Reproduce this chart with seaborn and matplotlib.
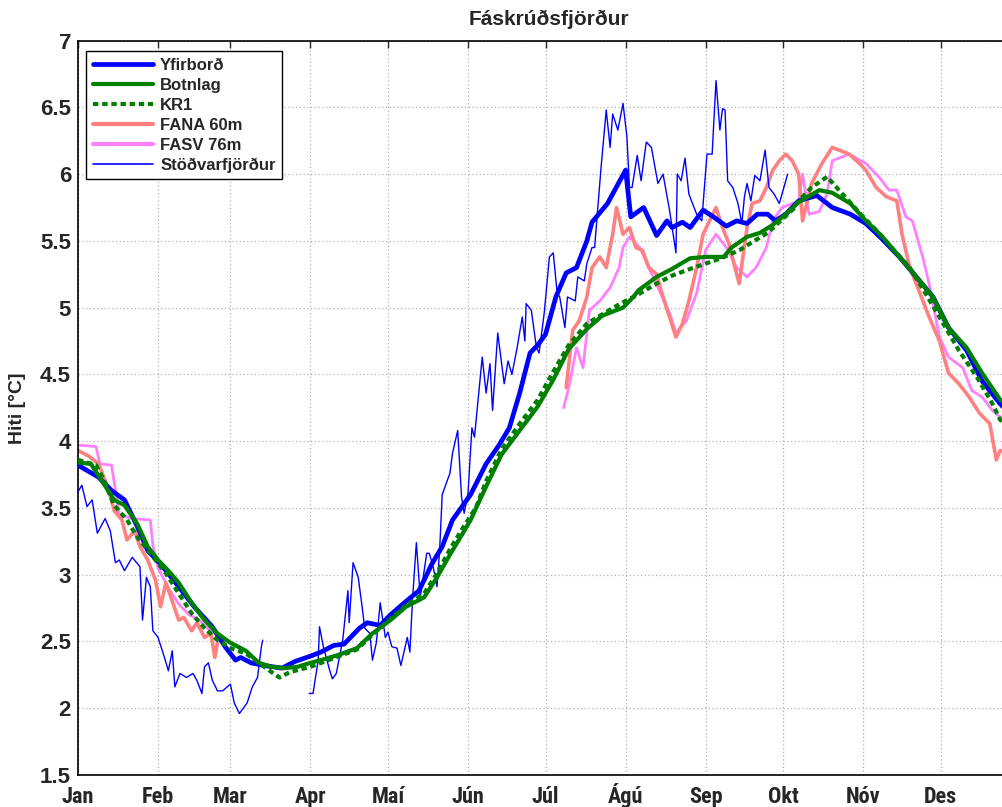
import pandas as pd
import matplotlib
matplotlib.use('Agg')
import matplotlib.pyplot as plt
from matplotlib import font_manager
from matplotlib.lines import Line2D
import seaborn as sns

# (dagur ársins, hiti) lesið af myndinni
yfirbord = [(0, 3.82), (8, 3.73), (13, 3.63), (18, 3.56), (23, 3.36), (27, 3.18), (32, 3.08),
            (39, 2.91), (45, 2.76), (52, 2.61), (57, 2.46), (61, 2.36), (63, 2.38), (67, 2.34),
            (72, 2.32), (79, 2.30), (84, 2.35), (90, 2.39), (94, 2.42), (99, 2.47), (103, 2.48),
            (109, 2.60), (112, 2.64), (117, 2.62), (121, 2.70), (127, 2.80), (132, 2.88),
            (137, 3.08), (141, 3.21), (145, 3.41), (152, 3.60), (158, 3.83), (163, 3.97),
            (167, 4.10), (171, 4.36), (175, 4.66), (178, 4.72), (181, 4.80), (185, 5.08),
            (189, 5.26), (193, 5.30), (197, 5.50), (199, 5.64), (205, 5.78), (212, 6.03),
            (214, 5.68), (219, 5.75), (224, 5.54), (228, 5.65), (230, 5.60), (234, 5.64),
            (237, 5.60), (242, 5.73), (246, 5.68), (251, 5.61), (255, 5.65), (259, 5.63),
            (263, 5.70), (267, 5.70), (270, 5.65), (274, 5.70), (279, 5.80), (286, 5.84),
            (292, 5.75), (299, 5.70), (305, 5.63), (311, 5.52), (318, 5.38), (325, 5.22),
            (331, 5.08), (337, 4.85), (344, 4.68), (350, 4.45), (357, 4.28), (365, 4.12)]

botnlag = [(0, 3.84), (5, 3.83), (10, 3.68), (14, 3.56), (18, 3.52), (23, 3.38), (27, 3.21),
           (31, 3.11), (35, 3.03), (39, 2.94), (44, 2.79), (49, 2.66), (54, 2.56), (59, 2.49),
           (65, 2.43), (70, 2.34), (75, 2.31), (80, 2.30), (85, 2.31), (90, 2.34), (94, 2.36),
           (101, 2.40), (108, 2.45), (114, 2.56), (121, 2.66), (127, 2.76), (134, 2.83),
           (139, 2.98), (144, 3.15), (149, 3.31), (152, 3.41), (158, 3.66), (164, 3.90),
           (171, 4.08), (178, 4.26), (184, 4.46), (190, 4.69), (197, 4.84), (203, 4.94),
           (211, 5.00), (215, 5.08), (217, 5.13), (224, 5.23), (230, 5.29), (237, 5.37),
           (243, 5.38), (250, 5.38), (253, 5.45), (259, 5.53), (264, 5.56), (269, 5.62),
           (274, 5.70), (279, 5.79), (287, 5.88), (292, 5.86), (299, 5.78), (305, 5.65),
           (311, 5.54), (318, 5.38), (325, 5.22), (331, 5.08), (337, 4.85), (344, 4.70),
           (350, 4.51), (357, 4.31), (365, 4.20)]

kr1 = [(0, 3.86), (7, 3.82), (10, 3.71), (14, 3.52), (19, 3.41), (23, 3.28), (28, 3.16),
       (34, 3.01), (39, 2.86), (44, 2.71), (49, 2.60), (54, 2.51), (59, 2.45), (65, 2.41),
       (70, 2.34), (75, 2.27), (78, 2.23), (82, 2.27), (90, 2.31), (97, 2.36), (108, 2.44),
       (114, 2.55), (121, 2.67), (127, 2.77), (134, 2.86), (139, 3.01), (144, 3.19),
       (149, 3.35), (154, 3.50), (158, 3.70), (164, 3.94), (171, 4.13), (178, 4.31),
       (184, 4.52), (190, 4.72), (197, 4.88), (203, 4.95), (210, 5.03), (217, 5.10),
       (224, 5.18), (230, 5.24), (237, 5.29), (243, 5.33), (249, 5.37), (256, 5.43),
       (261, 5.49), (267, 5.56), (272, 5.65), (277, 5.74), (279, 5.80), (284, 5.90),
       (290, 5.98), (296, 5.85), (303, 5.70), (309, 5.58), (315, 5.45), (322, 5.30),
       (328, 5.11), (335, 4.88), (341, 4.68), (348, 4.48), (354, 4.28), (357, 4.16),
       (365, 4.05)]

fana_vetur = [(0, 3.93), (4, 3.89), (8, 3.83), (12, 3.63), (14, 3.48), (17, 3.41), (19, 3.26),
              (22, 3.33), (24, 3.21), (27, 3.11), (30, 2.96), (32, 2.76), (34, 2.94), (36, 2.83),
              (39, 2.66), (41, 2.68), (44, 2.58), (46, 2.64), (49, 2.53), (51.5, 2.56),
              (53, 2.38), (54, 2.49)]
fana_sumar = [(189, 4.40), (191.5, 4.83), (194, 4.90), (197, 5.08), (199, 5.30), (202, 5.38),
              (204.5, 5.30), (207, 5.55), (208.5, 5.75), (211, 5.55), (213.5, 5.60),
              (216, 5.45), (218.5, 5.43), (221, 5.30), (224, 5.25), (226, 5.11), (229, 4.93),
              (231.5, 4.78), (234, 4.88), (236.5, 5.05), (239.5, 5.30), (242, 5.55),
              (244.5, 5.65), (247, 5.75), (249.5, 5.60), (252, 5.48), (255, 5.25), (256, 5.18),
              (259, 5.60), (261, 5.78), (264, 5.80), (266.5, 5.90), (269, 6.03), (271.5, 6.10),
              (274, 6.15), (276.5, 6.10), (279, 6.00), (280.5, 5.65), (284, 5.93), (288, 6.08),
              (292, 6.20), (298.5, 6.15), (302.5, 6.08), (305, 6.03), (309, 5.90), (313, 5.83),
              (317, 5.80), (319, 5.55), (322, 5.30), (325.5, 5.13), (329.5, 4.93),
              (333.5, 4.75), (337, 4.51), (341, 4.43), (345, 4.33), (349, 4.21), (353, 4.13),
              (355.5, 3.86), (357, 3.93), (365, 3.90)]

fasv_vetur = [(0, 3.97), (7, 3.96), (8.5, 3.83), (13, 3.82), (16, 3.45), (21, 3.42),
              (28, 3.41), (29, 3.22), (31, 3.05), (35, 2.90), (39, 2.78), (43, 2.70),
              (47, 2.66), (50, 2.60), (54, 2.55)]
fasv_sumar = [(188, 4.25), (190, 4.40), (193, 4.70), (195.5, 4.55), (198, 4.98), (202, 5.05),
              (206, 5.15), (209.5, 5.30), (211, 5.45), (213.5, 5.53), (217.5, 5.45),
              (221, 5.30), (225, 5.13), (229, 4.96), (231.5, 4.81), (235.5, 4.90),
              (239.5, 5.11), (243, 5.43), (247, 5.55), (251, 5.45), (255, 5.30), (259, 5.23),
              (262.5, 5.30), (266.5, 5.45), (269, 5.65), (272.5, 5.75), (276.5, 5.78),
              (279, 5.80), (280.5, 6.00), (283, 5.70), (287, 5.72), (290, 5.85), (292, 6.10),
              (298.5, 6.15), (305, 6.08), (310, 5.98), (314, 5.88), (317, 5.88), (320.5, 5.68),
              (323, 5.65), (327, 5.38), (329.5, 5.18), (333.5, 4.78), (337, 4.63),
              (342.5, 4.55), (346, 4.38), (350, 4.33), (354, 4.23), (357, 4.18), (365, 4.10)]

stodv_vetur = [(0, 3.62), (1.5, 3.67), (3.5, 3.51), (5.5, 3.56), (7.5, 3.31), (10.5, 3.42),
               (12.5, 3.33), (14.5, 3.09), (16, 3.11), (18, 3.03), (21, 3.13), (24, 3.06),
               (25, 2.66), (26.5, 2.98), (28, 2.91), (29, 2.58), (31, 2.53), (33, 2.41),
               (35, 2.28), (36.5, 2.43), (37.5, 2.16), (39.5, 2.26), (42, 2.23), (44.5, 2.26),
               (46, 2.21), (48, 2.11), (49, 2.31), (50.5, 2.34), (52, 2.21), (54, 2.13),
               (56, 2.13), (59, 2.18), (60.5, 2.04), (62.5, 1.96), (65.5, 2.04), (67.5, 2.16),
               (69.5, 2.23), (71, 2.46), (71.5, 2.51)]
stodv_sumar = [(89.5, 2.11), (91, 2.11), (93, 2.36), (93.5, 2.61), (95, 2.46), (97.5, 2.28),
               (98.5, 2.22), (100, 2.26), (102.5, 2.51), (104.5, 2.88), (105, 2.64),
               (106.5, 3.09), (108.5, 2.98), (110, 2.76), (111, 2.60), (113, 2.56),
               (114, 2.36), (115.5, 2.49), (117, 2.79), (119, 2.53), (120, 2.57), (121.5, 2.46),
               (123.5, 2.45), (125, 2.32), (127.5, 2.53), (128.5, 2.42), (129.5, 2.81),
               (131, 3.24), (132.5, 2.83), (135, 3.16), (136, 3.16), (137.5, 3.06),
               (139, 2.91), (140, 3.18), (141, 3.60), (144, 3.76), (145, 3.91), (147, 4.08),
               (148.5, 3.58), (149.5, 3.46), (151, 3.61), (152.5, 4.10), (153.5, 4.03),
               (156.5, 4.63), (158, 4.36), (159.5, 4.58), (160.5, 4.23), (162.5, 4.81),
               (165, 4.43), (166.5, 4.60), (168, 4.50), (170, 4.70), (172, 4.93), (173, 4.75),
               (173.5, 5.03), (175.5, 4.98), (177.5, 4.70), (178.5, 4.66), (180.5, 4.96),
               (182.5, 5.38), (184, 5.41), (185.5, 5.11), (186.5, 5.08), (188.5, 4.85),
               (189.5, 5.08), (192.5, 5.05), (193.5, 5.23), (196, 5.20), (197, 5.33),
               (199, 5.45), (200, 5.45), (202.5, 6.05), (204.5, 6.48), (206, 6.20), (207, 6.45),
               (209, 6.33), (211, 6.53), (212.5, 6.28), (213.5, 5.90), (214.5, 5.90),
               (216.5, 6.14), (218, 5.95), (220, 6.24), (222, 6.20), (224.5, 5.93), (226.5, 6.00),
               (229, 5.73), (231.5, 5.41), (232, 6.00), (233.5, 5.95), (235, 6.12), (236.5, 5.85),
               (239.5, 5.70), (241.5, 5.65), (242.5, 5.90), (243.5, 6.15), (245.5, 6.15),
               (247, 6.70), (248.5, 6.33), (249.5, 6.49), (250.5, 6.48), (251.5, 5.95),
               (253.5, 5.90), (255.5, 5.78), (257, 5.63), (258, 5.83), (259, 5.93), (260.5, 5.80),
               (262, 5.99), (264, 5.95), (266, 6.18), (267.5, 5.90), (269.5, 5.85), (271.5, 5.78),
               (274, 5.95), (274.7, 6.00)]

manudir = ['Jan', 'Feb', 'Mar', 'Apr', 'Maí', 'Jún', 'Júl', 'Ágú', 'Sep', 'Okt', 'Nóv', 'Des']
manud_dagur = [0, 31, 59, 90, 120, 151, 181, 212, 243, 273, 304, 334]
y_ticks = [1.5, 2, 2.5, 3, 3.5, 4, 4.5, 5, 5.5, 6, 6.5, 7]


def rod(*hlutar):
    # gera DataFrame, hver hluti fær sitt númer svo bil verði á milli
    frames = []
    for i, h in enumerate(hlutar):
        d = pd.DataFrame(h, columns=['dagur', 'hiti'])
        d['hluti'] = i
        frames.append(d)
    return pd.concat(frames, ignore_index=True)


sns.set_style('white')
plt.rcParams['font.family'] = ['Liberation Sans', 'DejaVu Sans']
plt.rcParams['font.weight'] = 'bold'

# mjótt letur fyrir mánuði ef það er til
til = {f.name for f in font_manager.fontManager.ttflist}
mjott = [n for n in ['Liberation Sans Narrow', 'DejaVu Sans Condensed', 'Roboto Condensed']
         if n in til]
man_font = mjott + ['Liberation Sans', 'DejaVu Sans']
man_size = 16 if mjott else 14.5

fig = plt.figure(figsize=(10.02, 8.07), dpi=100)
ax = fig.add_axes([0.0778, 0.0397, 0.941, 0.910])

lina = [
    ('FASV 76m', rod(fasv_vetur, fasv_sumar), '#ff80ff', 2.0, '-', 1),
    ('FANA 60m', rod(fana_vetur, fana_sumar), '#ff8080', 2.6, '-', 2),
    ('Stöðvarfjörður', rod(stodv_vetur, stodv_sumar), '#0000ff', 1.0, '-', 3),
    ('Yfirborð', rod(yfirbord), '#0000ff', 3.4, '-', 4),
    ('Botnlag', rod(botnlag), '#008000', 3.0, '-', 5),
    ('KR1', rod(kr1), '#008000', 3.0, (0, (1.3, 0.9)), 6),
]
for nafn, df, lit, lw, ls, z in lina:
    sns.lineplot(data=df, x='dagur', y='hiti', units='hluti', estimator=None, sort=False,
                 color=lit, linewidth=lw, linestyle=ls, zorder=z, ax=ax)

ax.set_xlim(0, 365)
ax.set_ylim(1.5, 7)
ax.set_xticks(manud_dagur)
ax.set_xticklabels(manudir, fontsize=man_size, fontweight='bold', family=man_font)
ax.set_yticks(y_ticks)
ax.set_yticklabels(['%g' % v for v in y_ticks], fontsize=16, fontweight='bold')
ax.tick_params(direction='in', length=5, width=1, top=True, right=True)
ax.tick_params(axis='x', pad=20)
ax.tick_params(axis='y', pad=5)
for t in ax.get_xticklabels():
    t.set_verticalalignment('baseline')
ax.grid(True, linestyle=(0, (1, 2)), color='#b0b0b0', linewidth=0.9)
for s in ax.spines.values():
    s.set_color('black')
    s.set_linewidth(1.2)

ax.set_xlabel('')
ax.set_ylabel('Hiti [°C]', fontsize=14, fontweight='bold', labelpad=10)
ax.set_title('Fáskrúðsfjörður', fontsize=15, fontweight='bold', pad=11)

handles = [
    Line2D([], [], color='#0000ff', lw=3.4),
    Line2D([], [], color='#008000', lw=3.0),
    Line2D([], [], color='#008000', lw=3.0, ls=(0, (1.3, 0.9))),
    Line2D([], [], color='#ff8080', lw=3.0),
    Line2D([], [], color='#ff80ff', lw=3.0),
    Line2D([], [], color='#0000ff', lw=1.2),
]
names = ['Yfirborð', 'Botnlag', 'KR1', 'FANA 60m', 'FASV 76m', 'Stöðvarfjörður']
leg = ax.legend(handles, names, loc='upper left', bbox_to_anchor=(0.0085, 0.986),
                borderaxespad=0, fancybox=False, framealpha=1, edgecolor='black',
                prop={'size': 12, 'weight': 'bold'}, handlelength=3.6,
                handletextpad=0.45, labelspacing=0.3, borderpad=0.4)
leg.get_frame().set_linewidth(1.0)

fig.savefig('out.png', dpi=100)
